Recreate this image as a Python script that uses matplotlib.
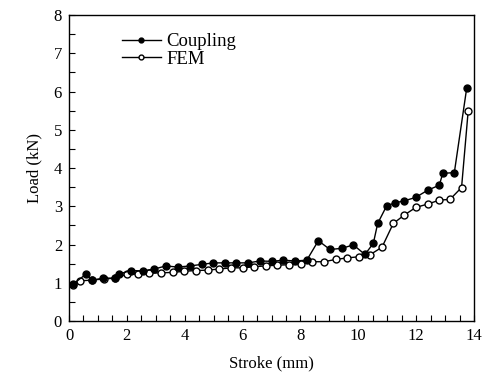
import numpy as np
import matplotlib
matplotlib.use("Agg")
import matplotlib.pyplot as plt
from matplotlib.ticker import MultipleLocator

# Stroke (mm) / Load (kN)
coupling_x = [0.15, 0.58, 0.81, 1.19, 1.59, 1.74, 2.14, 2.55, 2.95, 3.35, 3.76, 4.18,
              4.59, 4.99, 5.39, 5.79, 6.2, 6.6, 7.0, 7.41, 7.81, 8.22, 8.62, 9.02,
              9.43, 9.83, 10.23, 10.52, 10.67, 10.98, 11.27, 11.58, 11.98, 12.4,
              12.8, 12.92, 13.32, 13.75]
coupling_y = [0.97, 1.22, 1.07, 1.12, 1.12, 1.23, 1.32, 1.31, 1.36, 1.44, 1.41, 1.44,
              1.48, 1.52, 1.52, 1.52, 1.52, 1.57, 1.56, 1.59, 1.57, 1.59, 2.10, 1.87,
              1.90, 1.99, 1.74, 2.03, 2.55, 3.01, 3.09, 3.14, 3.23, 3.42,
              3.55, 3.86, 3.88, 6.10]

fem_x = [0.15, 0.38, 0.8, 1.2, 1.6, 1.99, 2.4, 2.78, 3.18, 3.58, 3.99, 4.39, 4.79,
         5.2, 5.6, 6.0, 6.4, 6.8, 7.2, 7.6, 8.01, 8.41, 8.81, 9.22, 9.62, 10.02,
         10.4, 10.82, 11.21, 11.59, 11.99, 12.41, 12.8, 13.17, 13.57, 13.8]
fem_y = [0.95, 1.05, 1.07, 1.1, 1.12, 1.22, 1.23, 1.25, 1.26, 1.27, 1.30, 1.32, 1.33,
         1.36, 1.39, 1.39, 1.42, 1.44, 1.46, 1.47, 1.49, 1.55, 1.55, 1.61, 1.65, 1.68,
         1.73, 1.93, 2.55, 2.77, 2.97, 3.06, 3.16, 3.18, 3.49, 5.50]

plt.rcParams["font.family"] = ["Liberation Serif", "DejaVu Serif"]

fig = plt.figure(figsize=(4.87, 3.85), dpi=100)
ax = fig.add_axes([0.1417, 0.1662, 0.8316, 0.7948])

ax.plot(coupling_x, coupling_y, "-", color="black", linewidth=1.0,
        marker="o", markersize=5, markerfacecolor="black",
        markeredgecolor="black", label="Coupling", zorder=3)
ax.plot(fem_x, fem_y, "-", color="black", linewidth=1.0,
        marker="o", markersize=5, markerfacecolor="white",
        markeredgecolor="black", markeredgewidth=1.0, label="FEM", zorder=2)

ax.set_xlim(0, 14)
ax.set_ylim(0, 8)
ax.xaxis.set_major_locator(MultipleLocator(2))
ax.xaxis.set_minor_locator(MultipleLocator(0.5))
ax.yaxis.set_major_locator(MultipleLocator(1))
ax.yaxis.set_minor_locator(MultipleLocator(0.5))
ax.tick_params(which="both", direction="in", length=4, width=0.8,
               labelsize=12, pad=5)
for s in ax.spines.values():
    s.set_linewidth(1.0)

ax.set_xlabel("Stroke (mm)", fontsize=12, labelpad=8)
ax.set_ylabel("Load (kN)", fontsize=12, labelpad=8)

ax.legend(loc="upper left", bbox_to_anchor=(0.13, 0.94), frameon=False,
          fontsize=13.5, markerscale=0.7, handlelength=2.1, handletextpad=0.3,
          labelspacing=0.0, borderpad=0, borderaxespad=0)

fig.savefig("out.png", dpi=100)
